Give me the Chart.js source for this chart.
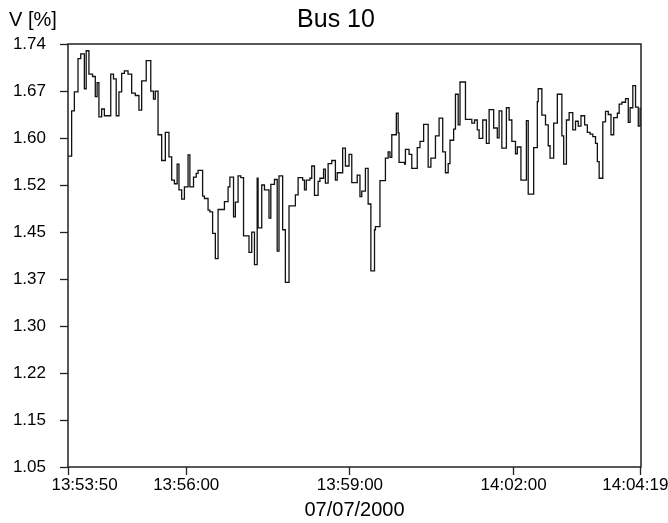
<!DOCTYPE html>
<html>
<head>
<meta charset="utf-8">
<script src="https://cdn.jsdelivr.net/npm/chart.js@4/dist/chart.umd.min.js"></script>
<style>
  html, body { margin: 0; padding: 0; background: #fff; }
  #wrap { width: 668px; height: 523px; }
</style>
</head>
<body>
<div id="wrap"><canvas id="c" width="668" height="523"></canvas></div>
<script>
// Bus 10 voltage trace, 07/07/2000, sampled from 13:53:50 onwards
const TITLE = 'Bus 10';
const Y_UNIT = 'V [%]';
const DATE_LABEL = '07/07/2000';

// seconds after 13:53:50 at which each reading starts
const TIME_S = [
  0, 4, 7, 11, 14, 18, 20, 23, 27, 30,
  32, 34, 37, 40, 47, 50, 53, 56, 59, 62,
  66, 70, 74, 78, 81, 86, 91, 94, 96, 99,
  103, 107, 111, 114, 117, 120, 122, 125, 128, 132,
  134, 138, 141, 143, 148, 150, 154, 156, 159, 162,
  165, 172, 176, 178, 182, 184, 187, 190, 193, 199,
  202, 205, 208, 209, 213, 216, 221, 223, 227, 230,
  232, 236, 239, 243, 250, 253, 258, 260, 262, 266,
  268, 271, 275, 277, 281, 283, 286, 290, 294, 296,
  302, 305, 309, 312, 318, 321, 323, 327, 330, 333,
  337, 338, 343, 349, 352, 354, 356, 361, 363, 364,
  370, 371, 375, 378, 384, 387, 391, 396, 399, 404,
  408, 412, 415, 418, 420, 424, 426, 429, 431, 437,
  444, 447, 450, 452, 456, 460, 463, 468, 472, 474,
  477, 482, 485, 488, 492, 494, 498, 504, 506, 512,
  516, 517, 521, 525, 528, 530, 534, 538, 543, 545,
  548, 551, 555, 558, 561, 564, 568, 571, 574, 577,
  580, 582, 584, 588, 591, 594, 597, 600, 604, 606,
  609, 613, 616, 618, 621, 624, 627, 629, 630
];

// voltage readings [%]
const VOLTAGE = [
  1.557, 1.631, 1.662, 1.716, 1.724, 1.667, 1.729, 1.691, 1.687, 1.654,
  1.677, 1.621, 1.634, 1.623, 1.691, 1.683, 1.623, 1.662, 1.692, 1.696,
  1.691, 1.660, 1.656, 1.632, 1.680, 1.713, 1.663, 1.650, 1.663, 1.592,
  1.550, 1.596, 1.556, 1.518, 1.512, 1.544, 1.502, 1.487, 1.507, 1.559,
  1.507, 1.523, 1.529, 1.534, 1.492, 1.488, 1.469, 1.466, 1.431, 1.390,
  1.470, 1.483, 1.507, 1.523, 1.458, 1.482, 1.525, 1.522, 1.427, 1.400,
  1.433, 1.380, 1.521, 1.440, 1.510, 1.502, 1.456, 1.511, 1.519, 1.402,
  1.525, 1.437, 1.351, 1.476, 1.494, 1.522, 1.518, 1.502, 1.518, 1.521,
  1.541, 1.493, 1.516, 1.521, 1.536, 1.513, 1.545, 1.550, 1.518, 1.530,
  1.570, 1.541, 1.560, 1.514, 1.526, 1.491, 1.500, 1.537, 1.479, 1.370,
  1.437, 1.442, 1.517, 1.554, 1.564, 1.555, 1.592, 1.627, 1.595, 1.547,
  1.544, 1.568, 1.560, 1.537, 1.571, 1.581, 1.609, 1.539, 1.554, 1.590,
  1.619, 1.564, 1.530, 1.545, 1.583, 1.601, 1.658, 1.608, 1.678, 1.617,
  1.611, 1.616, 1.600, 1.586, 1.616, 1.578, 1.633, 1.603, 1.587, 1.631,
  1.570, 1.636, 1.616, 1.581, 1.561, 1.572, 1.518, 1.615, 1.495, 1.571,
  1.646, 1.667, 1.624, 1.608, 1.574, 1.554, 1.611, 1.658, 1.590, 1.544,
  1.616, 1.628, 1.600, 1.614, 1.606, 1.623, 1.608, 1.596, 1.593, 1.589,
  1.578, 1.548, 1.521, 1.613, 1.630, 1.625, 1.592, 1.620, 1.627, 1.642,
  1.645, 1.651, 1.612, 1.636, 1.672, 1.637, 1.606, 1.635, 1.635
];

// time axis ticks (seconds after 13:53:50) and their labels
const X_TICK_S = [0, 130, 310, 490, 629];
const X_TICK_LABELS = ['13:53:50', '13:56:00', '13:59:00', '14:02:00', '14:04:19'];

// voltage axis: ten evenly spaced ticks between the limits
const Y_MIN = 1.05;
const Y_MAX = 1.74;
const Y_TICK_LABELS = ['1.05', '1.15', '1.22', '1.30', '1.37', '1.45', '1.52', '1.60', '1.67', '1.74'];

const FONT = '"Liberation Sans", Arial, Helvetica, sans-serif';
Chart.defaults.font.family = FONT;
Chart.defaults.color = '#000';

// frame around the plot plus the headline and unit label
const framePlugin = {
  id: 'frame',
  afterDraw(chart) {
    const { ctx, chartArea: a } = chart;
    ctx.save();
    ctx.strokeStyle = '#222';
    ctx.lineWidth = 1.5;
    ctx.strokeRect(a.left, a.top, a.right - a.left, a.bottom - a.top);
    ctx.fillStyle = '#000';
    ctx.textBaseline = 'middle';
    ctx.font = '25px ' + FONT;
    ctx.textAlign = 'center';
    ctx.fillText(TITLE, 336, 20);
    ctx.font = '20px ' + FONT;
    ctx.textAlign = 'left';
    ctx.fillText(Y_UNIT, 9, 20);
    ctx.restore();
  }
};

new Chart(document.getElementById('c'), {
  type: 'line',
  data: {
    datasets: [{
      data: TIME_S.map((t, i) => ({ x: t, y: VOLTAGE[i] })),
      stepped: true,
      borderColor: '#111',
      borderWidth: 1.3,
      pointRadius: 0,
      fill: false
    }]
  },
  options: {
    responsive: false,
    devicePixelRatio: 1,
    animation: false,
    layout: { padding: { top: 44, right: 27, left: 0, bottom: 0 } },
    plugins: {
      legend: { display: false },
      tooltip: { enabled: false },
      title: { display: false }
    },
    scales: {
      x: {
        type: 'linear',
        min: 0,
        max: 630,
        afterBuildTicks: s => { s.ticks = X_TICK_S.map(v => ({ value: v })); },
        afterFit: s => { s.height = 56; s.paddingLeft = 0; s.paddingRight = 0; },
        grid: { drawOnChartArea: false, drawTicks: true, tickLength: 8, tickColor: '#222', tickWidth: 1.3 },
        border: { display: false },
        ticks: {
          autoSkip: false,
          maxRotation: 0,
          padding: 0,
          color: '#000',
          font: { size: 17 },
          callback: (v, i) => {
            const s = X_TICK_LABELS[i];
            // nudge the outermost labels so they stay inside the canvas
            if (i === 0) return '       ' + s;
            if (i === X_TICK_LABELS.length - 1) return s + '  ';
            return s;
          }
        },
        title: {
          display: true,
          text: DATE_LABEL,
          color: '#000',
          font: { size: 20 },
          padding: { top: 0, bottom: 1 }
        }
      },
      y: {
        type: 'linear',
        min: Y_MIN,
        max: Y_MAX,
        afterBuildTicks: s => {
          s.ticks = Y_TICK_LABELS.map((_, i) => ({ value: Y_MIN + i * (Y_MAX - Y_MIN) / (Y_TICK_LABELS.length - 1) }));
        },
        afterFit: s => { s.width = 68; s.paddingTop = 0; s.paddingBottom = 0; },
        grid: { drawOnChartArea: false, drawTicks: true, tickLength: 8, tickColor: '#222', tickWidth: 1.3 },
        border: { display: false },
        ticks: {
          padding: 14,
          color: '#000',
          font: { size: 17 },
          callback: (v, i) => Y_TICK_LABELS[i]
        }
      }
    }
  },
  plugins: [framePlugin]
});
</script>
</body>
</html>
